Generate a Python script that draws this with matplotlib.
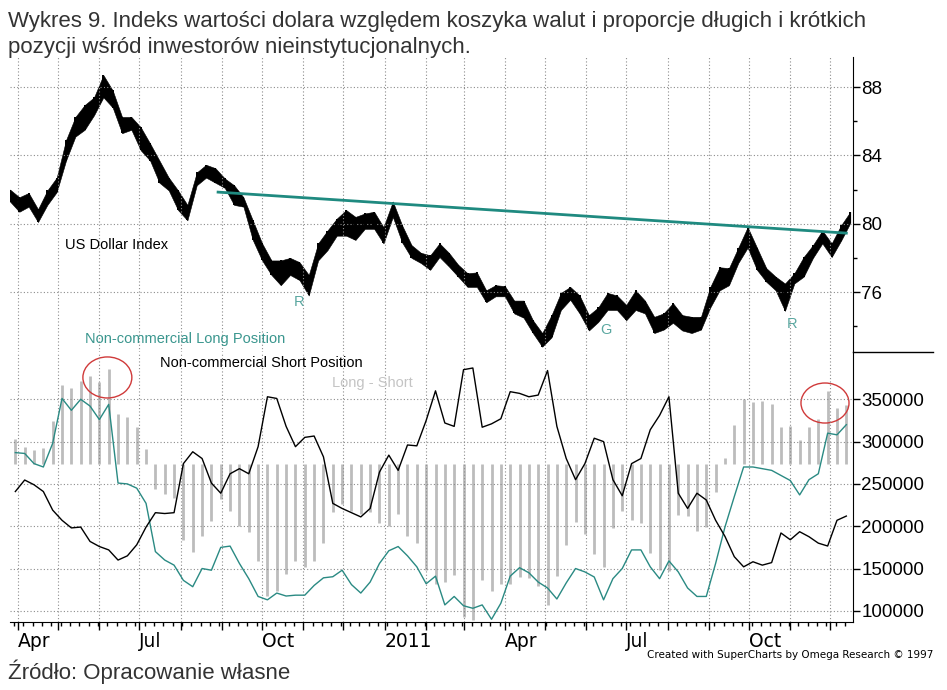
import matplotlib
matplotlib.use('Agg')
import matplotlib.pyplot as plt
import matplotlib.dates as mdates
from matplotlib.patches import Ellipse
from matplotlib.lines import Line2D
from matplotlib.ticker import FuncFormatter
import pandas as pd

# weekly high / low of the US Dollar Index
dxy_high = [82.0, 81.55, 81.8, 80.85, 81.95, 82.7, 84.9, 86.25, 86.95, 87.4,
            88.7, 87.8, 86.25, 86.25, 85.65, 84.7, 83.7, 82.7, 81.95, 81.1,
            83.0, 83.45, 83.25, 82.65, 82.25, 81.55, 80.2, 78.85, 77.85, 77.85,
            78.0, 77.75, 77.0, 78.85, 79.6, 80.3, 80.8, 80.4, 80.6, 80.7,
            79.8, 81.3, 79.9, 78.75, 78.3, 78.15, 78.85, 78.3, 77.6, 77.1,
            77.15, 76.1, 76.4, 76.35, 75.5, 75.5, 74.35, 73.6, 74.65, 75.95,
            76.3, 75.8, 74.65, 75.1, 75.95, 75.8, 75.25, 76.1, 75.5, 74.55,
            74.75, 75.35, 74.65, 74.55, 74.55, 76.3, 77.45, 77.4, 78.6, 79.8,
            78.6, 77.4, 76.9, 76.5, 77.1, 78.05, 78.75, 79.6, 78.85, 79.9,
            80.7]
dxy_low = [81.3, 80.7, 81.0, 80.1, 81.1, 81.85, 83.7, 85.1, 85.5, 86.35,
           87.4, 86.8, 85.3, 85.5, 84.3, 83.7, 82.4, 81.95, 80.8, 80.2,
           82.25, 82.7, 82.4, 82.1, 81.1, 81.0, 79.05, 77.85, 77.0, 76.4,
           77.0, 76.7, 75.8, 77.85, 78.45, 79.3, 79.3, 79.05, 79.7, 79.7,
           78.85, 80.4, 78.9, 78.0, 77.7, 77.3, 78.05, 77.5, 76.9, 76.3,
           76.3, 75.4, 75.75, 75.75, 74.75, 74.5, 73.6, 72.8, 73.35, 74.95,
           75.55, 74.75, 73.75, 74.25, 74.95, 74.95, 74.35, 74.95, 74.75, 73.6,
           73.8, 74.2, 73.75, 73.6, 73.8, 75.1, 76.1, 76.4, 77.7, 78.6,
           77.3, 76.6, 76.1, 74.9, 76.5, 76.9, 78.0, 78.85, 78.05, 79.0,
           80.05]

# weekly COT positions, non-commercial
long_pos = [287000, 286000, 274000, 270000, 298000, 351000, 337000, 350000, 342000, 326000,
            344000, 251000, 250000, 245000, 227000, 170000, 160000, 154000, 136000, 128500,
            150000, 148000, 175000, 176500, 156000, 138000, 117000, 113000, 121000, 117500,
            118500, 118500, 130000, 139000, 140300, 148000, 131000, 121000, 134000, 156000,
            171000, 176000, 165000, 152000, 132000, 141000, 107000, 117000, 106000, 103000,
            107000, 90000, 109000, 141000, 151000, 145000, 134000, 127000, 114000, 133000,
            150000, 146000, 140000, 113000, 138000, 150000, 172000, 172000, 152000, 138000,
            159000, 146000, 127000, 117000, 117000, 156000, 199000, 235000, 270000, 270000,
            268000, 266000, 260000, 254000, 237000, 255000, 262000, 310000, 308000, 320000]
short_pos = [241000, 254600, 249000, 241000, 219000, 207000, 198000, 199000, 182000, 176000,
             172000, 160000, 165000, 178000, 199000, 216000, 215000, 216000, 274000, 288000,
             280000, 251000, 239000, 262000, 268000, 262000, 294000, 353000, 351000, 318000,
             294000, 305000, 306600, 282000, 227000, 221000, 216000, 211000, 221000, 264000,
             284000, 266000, 296000, 295000, 325000, 360000, 322000, 318000, 385000, 387000,
             317000, 321000, 327000, 359000, 357000, 353000, 355000, 384000, 318000, 280000,
             255000, 274000, 304000, 300000, 255000, 236000, 274000, 280000, 314000, 331000,
             353000, 239000, 221000, 239000, 231000, 207000, 188000, 164000, 152000, 158000,
             154000, 157000, 192000, 184000, 193500, 187600, 180000, 176600, 207000, 212000]

trend_dates = ['2010-08-29', '2011-12-13']
trend_vals = [81.85, 79.45]

pattern_marks = [('R', '2010-10-29', 75.4), ('G', '2011-06-16', 73.8), ('R', '2011-11-02', 74.1)]

price_dates = pd.date_range('2010-03-26', periods=len(dxy_high), freq='W-FRI')
cot_dates = pd.date_range('2010-03-30', periods=len(long_pos), freq='W-TUE')
net_pos = [l - s for l, s in zip(long_pos, short_pos)]

W, H = 947, 690
TEAL = '#2a8a83'
GRID = dict(color='#8c8c8c', linestyle=(0, (1, 2)), linewidth=0.8)
plt.rcParams['font.family'] = ['Liberation Sans', 'DejaVu Sans']

def fx(x):
   return x / W

def fy(y):
   return 1 - y / H

fig = plt.figure(figsize=(9.47, 6.90), dpi=100)
ax1 = fig.add_axes([fx(10), fy(352), fx(853) - fx(10), (352 - 57) / H])
ax2 = fig.add_axes([fx(10), fy(622), fx(853) - fx(10), (622 - 352) / H], sharex=ax1)

month_starts = pd.date_range('2010-04-01', '2011-12-01', freq='MS')
week_ticks = pd.date_range('2010-03-29', '2011-12-18', freq='W-MON')

def month_label(d):
   if d.month == 1:
      return str(d.year)
   if d.month in (4, 7, 10):
      return d.strftime('%b')
   return ''

# --- top panel: dollar index
ax1.fill_between(price_dates, dxy_low, dxy_high, color='black', lw=0.4)
ax1.vlines(price_dates, dxy_low, dxy_high, color='black', lw=1.4)
ax1.plot(pd.to_datetime(trend_dates), trend_vals, color='#1f8a80', lw=2)
for lbl, d, v in pattern_marks:
   ax1.text(pd.Timestamp(d), v, lbl, color='#5aa7a0', fontsize=10.5, ha='center', va='center')

ax1.set_ylim(72.49, 89.76)
ax1.set_xlim(pd.Timestamp('2010-03-26'), pd.Timestamp('2011-12-18'))
ax1.yaxis.tick_right()
ax1.set_yticks([76, 80, 84, 88])
ax1.set_yticks([74, 78, 82, 86], minor=True)
ax1.tick_params(axis='y', which='major', length=5, width=1, labelsize=13.5, pad=1)
ax1.tick_params(axis='y', which='minor', length=3, width=1)
ax1.tick_params(axis='x', which='both', bottom=False, labelbottom=False)
for s in ['top', 'left', 'bottom']:
   ax1.spines[s].set_visible(False)
ax1.grid(True, which='major', **GRID)

# --- bottom panel: COT positions
ax_net = ax2.twinx()
ax_net.vlines(cot_dates, 0, net_pos, color='#bcbcbc', lw=2)
ax_net.set_ylim(-287200, 203700)
ax_net.set_yticks([])
for s in ax_net.spines.values():
   s.set_visible(False)
ax2.set_zorder(ax_net.get_zorder() + 1)
ax2.patch.set_visible(False)

ax2.plot(cot_dates, long_pos, color=TEAL, lw=1)
ax2.plot(cot_dates, short_pos, color='black', lw=1)

ax2.set_ylim(86800, 405900)
ax2.yaxis.tick_right()
ax2.set_yticks(range(100000, 350001, 50000))
ax2.yaxis.set_major_formatter(FuncFormatter(lambda v, p: '%d' % v))
ax2.tick_params(axis='y', length=5, width=1, labelsize=13.5, pad=1)
ax2.set_xticks(month_starts)
ax2.set_xticklabels([month_label(d) for d in month_starts], ha='left',
                    fontfamily='Liberation Sans Narrow', fontsize=13.5)
ax2.set_xticks(week_ticks, minor=True)
ax2.tick_params(axis='x', which='major', length=6, width=1, pad=1)
ax2.tick_params(axis='x', which='minor', length=3, width=1)
for s in ['top', 'left']:
   ax2.spines[s].set_visible(False)
ax2.grid(True, which='major', **GRID)

ax2.add_patch(Ellipse((mdates.date2num(pd.Timestamp('2010-06-07')), 375800), 36.7, 48500,
                      fill=False, edgecolor='#d03a3a', lw=1))
ax2.add_patch(Ellipse((mdates.date2num(pd.Timestamp('2011-11-27')), 345600), 36.0, 47300,
                      fill=False, edgecolor='#d03a3a', lw=1))

# separator between panels
fig.add_artist(Line2D([fx(853), fx(933)], [fy(352), fy(352)], color='black', lw=1))

# --- texts
fig.text(fx(65), fy(245), 'US Dollar Index', fontsize=10.5, va='center')
fig.text(fx(85), fy(339), 'Non-commercial Long Position', color='#3a968e', fontsize=10.5, va='center')
fig.text(fx(160), fy(363), 'Non-commercial Short Position', color='black', fontsize=10.5, va='center')
fig.text(fx(332), fy(383), 'Long - Short', color='#c4c4c4', fontsize=10.5, va='center')

fig.text(fx(8), fy(21), 'Wykres 9. Indeks wartości dolara względem koszyka walut i proporcje długich i krótkich',
         fontsize=16, color='#333333', va='center')
fig.text(fx(8), fy(47), 'pozycji wśród inwestorów nieinstytucjonalnych.',
         fontsize=16, color='#333333', va='center')
fig.text(fx(8), fy(672), 'Źródło: Opracowanie własne', fontsize=16, color='#333333', va='center')
fig.text(fx(933), fy(655), 'Created with SuperCharts by Omega Research © 1997', fontsize=7.5,
         family='Liberation Sans Narrow', ha='right', va='center')

fig.savefig('out.png', dpi=100)
